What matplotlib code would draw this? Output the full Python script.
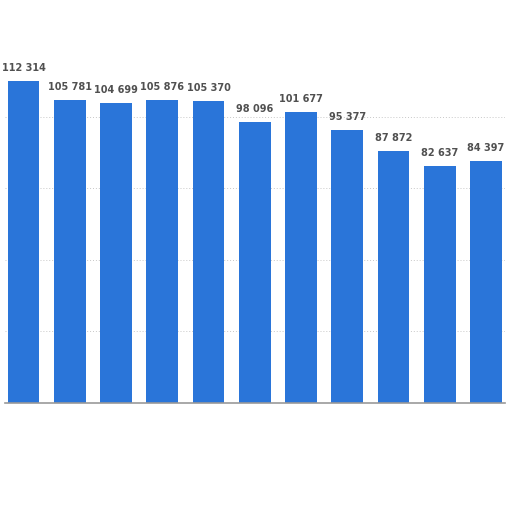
import matplotlib.pyplot as plt
import numpy as np

values = [112314, 105781, 104699, 105876, 105370, 98096, 101677, 95377, 87872, 82637, 84397]
labels = ["{:,}".format(v).replace(",", " ") for v in values]

fig = plt.figure(figsize=(5.12, 5.12), dpi=100)
ax = fig.add_axes([5 / 512, 109 / 512, 500 / 512, 358 / 512])

x = np.arange(len(values))
ax.bar(x, values, width=0.69, color="#2a75d9", zorder=2)
for xi, v, lab in zip(x, values, labels):
    ax.text(xi, v + 2800, lab, ha="center", va="bottom", fontsize=7,
            fontweight="semibold", color="#505050")

ax.set_xlim(-0.4, 10.41)
ax.set_ylim(0, 125000)
ax.set_yticks([25000, 50000, 75000, 100000])
ax.yaxis.grid(True, color="#c8c8c8", linestyle=(0, (1, 2)), linewidth=0.7, zorder=0)
ax.set_xticks([])
ax.tick_params(left=False, labelleft=False)
for s in ["top", "right", "left"]:
    ax.spines[s].set_visible(False)
ax.spines["bottom"].set_color("#999999")
ax.spines["bottom"].set_linewidth(1.2)

fig.savefig("out.png", dpi=100)
